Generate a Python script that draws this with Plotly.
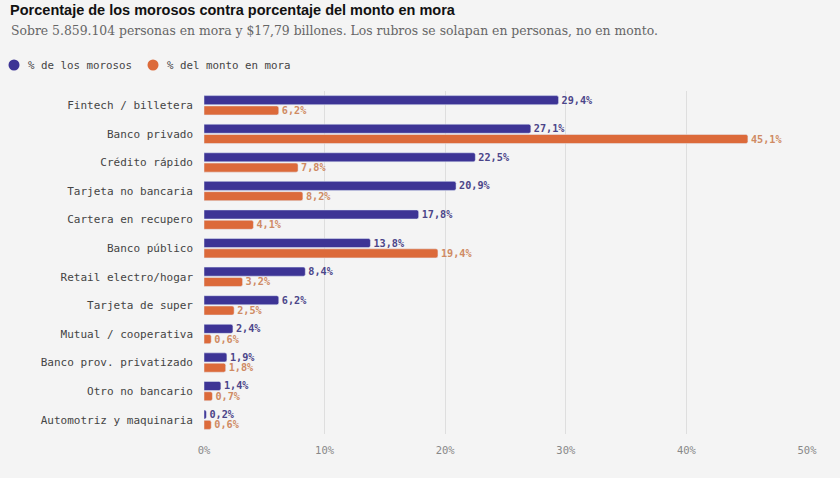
import plotly.graph_objects as go

rubros = [
    "Fintech / billetera",
    "Banco privado",
    "Crédito rápido",
    "Tarjeta no bancaria",
    "Cartera en recupero",
    "Banco público",
    "Retail electro/hogar",
    "Tarjeta de super",
    "Mutual / cooperativa",
    "Banco prov. privatizado",
    "Otro no bancario",
    "Automotriz y maquinaria",
]
pct_morosos = [29.4, 27.1, 22.5, 20.9, 17.8, 13.8, 8.4, 6.2, 2.4, 1.9, 1.4, 0.2]
pct_monto = [6.2, 45.1, 7.8, 8.2, 4.1, 19.4, 3.2, 2.5, 0.6, 1.8, 0.7, 0.6]
x_ticks = [0, 10, 20, 30, 40, 50]
series = ["% de los morosos", "% del monto en mora"]

PURPLE = "#3d3495"
ORANGE = "#dc6a3a"
MONO = "DejaVu Sans Mono, monospace"


def fmt(v):
    return f"{v:.1f}%".replace(".", ",")


fig = go.Figure()
for name, vals, col, tcol in [
    (series[0], pct_morosos, PURPLE, "#4b4589"),
    (series[1], pct_monto, ORANGE, "#cf8a62"),
]:
    fig.add_trace(go.Bar(
        y=rubros, x=vals, orientation="h", name=name,
        marker_color=col, text=[fmt(v) for v in vals],
        textposition="outside", cliponaxis=False, constraintext="none",
        textfont=dict(family=MONO, size=10.2, color=tcol, weight="bold"),
        showlegend=False, hoverinfo="skip",
    ))

# legend drawn by hand: circle + label
W, H = 840, 478
L, R, T, B = 204, 33, 91, 44
pw, ph = W - L - R, H - T - B


def px_x(x):
    return (x - L) / pw


def px_y(y):
    return (H - B - y) / ph


shapes = []
annotations = []
for cx, label, col in [(14, series[0], PURPLE), (153, series[1], ORANGE)]:
    shapes.append(dict(
        type="circle", xref="paper", yref="paper",
        x0=px_x(cx - 5.5), x1=px_x(cx + 5.5), y0=px_y(65 + 5.5), y1=px_y(65 - 5.5),
        fillcolor=col, line=dict(width=0),
    ))
    annotations.append(dict(
        text=label, xref="paper", yref="paper", x=px_x(cx + 12), y=px_y(65),
        xanchor="left", yanchor="middle", showarrow=False,
        font=dict(family=MONO, size=10.8, color="#444"),
    ))

annotations.append(dict(
    text="Sobre 5.859.104 personas en mora y $17,79 billones. Los rubros se solapan en personas, no en monto.",
    xref="paper", yref="paper", x=px_x(9), y=px_y(30), xanchor="left", yanchor="middle",
    showarrow=False, font=dict(family="DejaVu Serif, serif", size=12.4, color="#666"),
))

fig.update_layout(
    width=W, height=H,
    paper_bgcolor="#f4f4f4", plot_bgcolor="rgba(0,0,0,0)",
    barmode="group", bargap=0.28, bargroupgap=0.12, barcornerradius=2,
    margin=dict(l=L, r=R, t=T, b=B),
    title=dict(
        text="<b>Porcentaje de los morosos contra porcentaje del monto en mora</b>",
        x=0.012, xanchor="left", y=0.99, yanchor="top",
        font=dict(family="Liberation Sans, Arial, sans-serif", size=14.5, color="#111"),
    ),
    shapes=shapes,
    annotations=annotations,
    showlegend=False,
)
fig.update_xaxes(
    range=[0, 50], tickvals=x_ticks, ticktext=[f"{t}%" for t in x_ticks],
    showgrid=True, gridcolor="#dedede", gridwidth=1, zeroline=False,
    showline=False,
    tickfont=dict(family=MONO, size=10.5, color="#888"), ticks="", ticklabelstandoff=8,
)
fig.update_yaxes(
    categoryorder="array", categoryarray=rubros, autorange="reversed",
    showgrid=False, tickfont=dict(family=MONO, size=11, color="#444"),
    ticks="", ticklabelstandoff=10,
)
fig.write_html("out.html", config={"displayModeBar": False},
               post_script="document.body.style.margin='0';")
